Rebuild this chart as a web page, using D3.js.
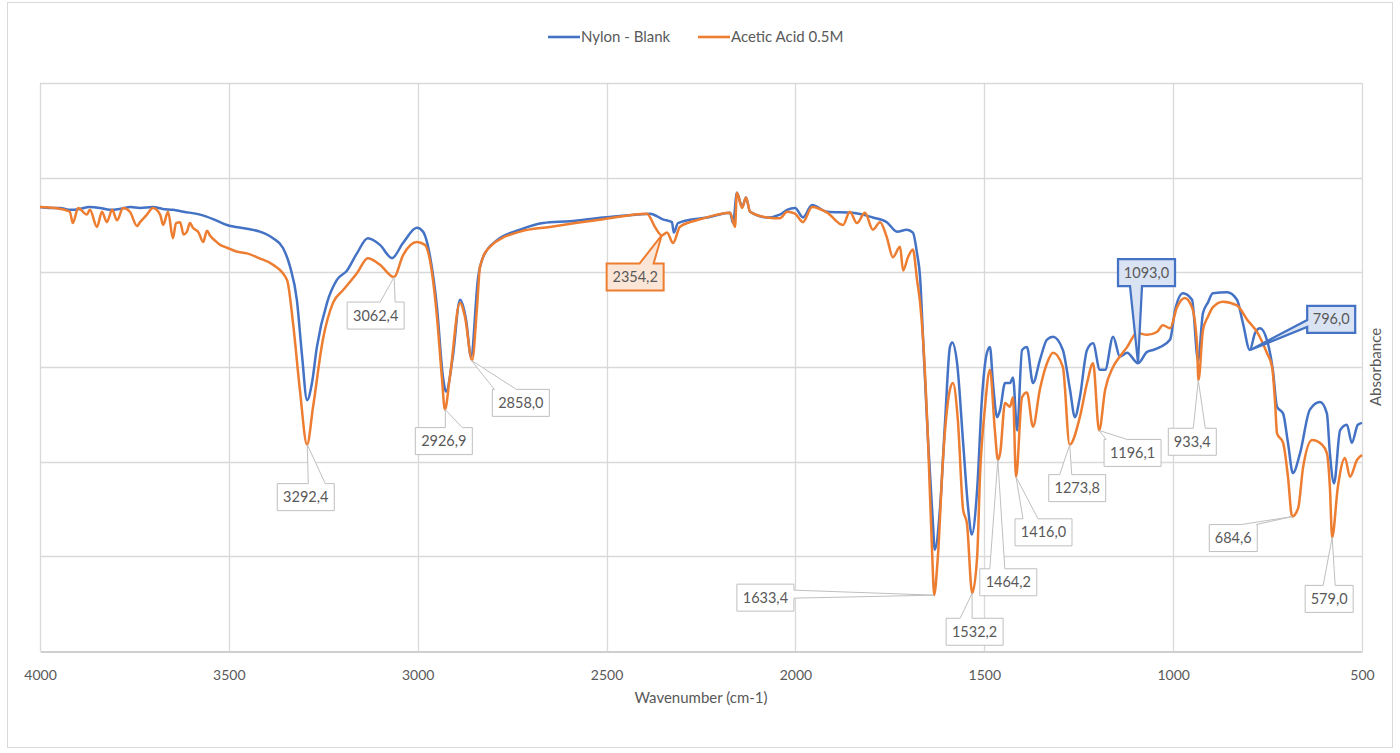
<!DOCTYPE html>
<html>
<head>
<meta charset="utf-8">
<script src="https://cdn.jsdelivr.net/npm/d3@7"></script>
<style>
  body { margin: 0; background: #fff; }
  text { font-family: Lato, "Open Sans", sans-serif; fill: #595959; }
</style>
</head>
<body>
<script>
// spectra: [wavenumber, absorbance (grid units)]
const nylonBlank = [[4000,4.69],[3970,4.68],[3947,4.68],[3920,4.66],[3894,4.67],[3870,4.69],[3841,4.68],[3815,4.66],[3788,4.67],[3760,4.69],[3735,4.68],[3701,4.69],[3675,4.67],[3648,4.66],[3620,4.64],[3576,4.61],[3540,4.56],[3505,4.50],[3452,4.46],[3418,4.43],[3383,4.36],[3357,4.26],[3338,4.06],[3320,3.71],[3306,3.11],[3293,2.65],[3280,2.83],[3267,3.21],[3240,3.68],[3214,3.92],[3187,4.02],[3161,4.20],[3132,4.36],[3100,4.29],[3068,4.15],[3039,4.31],[3002,4.47],[2986,4.43],[2967,4.16],[2949,3.63],[2933,2.89],[2925,2.74],[2907,3.11],[2888,3.71],[2872,3.50],[2859,3.11],[2840,3.95],[2827,4.16],[2790,4.34],[2729,4.45],[2668,4.52],[2597,4.54],[2509,4.58],[2419,4.61],[2385,4.62],[2351,4.56],[2327,4.53],[2322,4.42],[2311,4.52],[2253,4.57],[2234,4.58],[2173,4.63],[2165,4.52],[2155,4.84],[2141,4.69],[2131,4.79],[2120,4.64],[2075,4.58],[2041,4.61],[2022,4.66],[2001,4.68],[1980,4.58],[1956,4.71],[1916,4.64],[1848,4.63],[1795,4.58],[1758,4.53],[1731,4.43],[1705,4.45],[1689,4.42],[1678,4.20],[1670,3.95],[1662,3.29],[1649,2.23],[1636,1.35],[1631,1.07],[1617,1.52],[1604,2.41],[1591,3.21],[1585,3.26],[1572,3.04],[1556,2.20],[1543,1.52],[1533,1.23],[1519,1.70],[1506,2.68],[1493,3.15],[1485,3.21],[1477,2.83],[1466,2.47],[1458,2.55],[1445,2.83],[1432,2.83],[1424,2.89],[1413,2.33],[1400,3.18],[1387,3.21],[1371,2.83],[1353,3.07],[1334,3.29],[1318,3.32],[1292,3.18],[1273,2.76],[1260,2.47],[1247,2.68],[1228,3.18],[1212,3.25],[1194,2.97],[1180,2.97],[1159,3.32],[1141,3.11],[1122,3.15],[1093,3.04],[1069,3.16],[1053,3.18],[1035,3.21],[1008,3.29],[995,3.60],[974,3.78],[950,3.71],[934,3.07],[921,3.57],[908,3.68],[895,3.78],[857,3.79],[831,3.71],[815,3.46],[797,3.18],[783,3.36],[770,3.41],[752,3.29],[736,2.97],[725,2.58],[709,2.51],[696,2.20],[683,1.88],[664,2.09],[638,2.55],[611,2.63],[593,2.51],[585,2.09],[574,1.77],[558,2.33],[540,2.39],[527,2.20],[511,2.39],[500,2.41]];

const aceticAcid = [[4000,4.69],[3960,4.68],[3921,4.64],[3913,4.52],[3899,4.68],[3876,4.61],[3868,4.66],[3849,4.48],[3836,4.64],[3823,4.53],[3809,4.66],[3796,4.55],[3780,4.68],[3762,4.64],[3743,4.49],[3735,4.53],[3717,4.61],[3701,4.68],[3682,4.61],[3674,4.50],[3661,4.64],[3648,4.36],[3640,4.52],[3629,4.53],[3620,4.40],[3611,4.43],[3603,4.52],[3595,4.47],[3580,4.42],[3568,4.32],[3558,4.44],[3550,4.39],[3535,4.33],[3523,4.29],[3505,4.26],[3480,4.22],[3452,4.20],[3420,4.15],[3383,4.08],[3346,3.92],[3330,3.46],[3312,2.76],[3293,2.18],[3277,2.58],[3251,3.29],[3224,3.68],[3198,3.81],[3161,3.99],[3132,4.15],[3100,4.08],[3063,3.95],[3039,4.18],[3002,4.32],[2981,4.29],[2962,3.99],[2949,3.53],[2936,2.89],[2928,2.55],[2915,2.89],[2888,3.68],[2875,3.53],[2856,3.07],[2843,3.63],[2835,4.06],[2809,4.27],[2729,4.43],[2650,4.48],[2509,4.56],[2393,4.62],[2372,4.48],[2354,4.39],[2340,4.42],[2324,4.31],[2306,4.48],[2279,4.53],[2253,4.56],[2173,4.63],[2160,4.48],[2155,4.84],[2141,4.68],[2131,4.79],[2120,4.64],[2075,4.58],[2041,4.57],[2022,4.64],[2001,4.62],[1980,4.53],[1956,4.69],[1916,4.63],[1874,4.50],[1856,4.64],[1837,4.52],[1816,4.63],[1795,4.45],[1776,4.53],[1758,4.37],[1742,4.16],[1723,4.27],[1715,4.02],[1702,4.16],[1689,4.24],[1678,3.92],[1670,3.68],[1662,3.29],[1649,2.23],[1636,0.82],[1633,0.59],[1623,0.99],[1609,2.05],[1591,2.76],[1583,2.83],[1570,2.44],[1556,1.49],[1546,1.35],[1532,0.61],[1519,0.99],[1511,1.88],[1498,2.58],[1485,2.97],[1472,2.33],[1464,2.02],[1458,2.09],[1445,2.62],[1432,2.58],[1424,2.68],[1416,1.84],[1400,2.68],[1387,2.73],[1371,2.37],[1353,2.76],[1334,3.04],[1318,3.15],[1292,3.00],[1274,2.18],[1247,2.47],[1228,2.83],[1212,3.04],[1196,2.33],[1180,2.76],[1159,3.00],[1141,3.11],[1122,3.21],[1096,3.36],[1069,3.34],[1043,3.37],[1027,3.44],[1008,3.41],[990,3.63],[969,3.73],[950,3.63],[937,3.25],[933,2.86],[921,3.39],[908,3.53],[895,3.63],[868,3.69],[831,3.65],[804,3.50],[778,3.37],[752,3.15],[738,3.00],[730,2.62],[725,2.30],[709,2.20],[696,1.84],[685,1.42],[669,1.51],[656,1.94],[632,2.23],[606,2.18],[593,2.09],[585,1.73],[579,1.20],[564,1.73],[545,2.04],[532,1.84],[513,2.02],[500,2.07]];

const seriesNames = ['Nylon - Blank', 'Acetic Acid 0.5M'];
const xTicks = [4000, 3500, 3000, 2500, 2000, 1500, 1000, 500];

// peak labels: wavenumber + which series it sits on
const peakWn     = [3292.4, 3062.4, 2926.9, 2858.0, 2354.2, 1633.4, 1532.2, 1464.2, 1416.0, 1273.8, 1196.1, 933.4, 684.6, 579.0, 1093.0, 796.0];
const peakSeries = [1,1,1,1,1,1,1,1,1,1,1,1,1,1,0,0];

// callout placement relative to the tip (px): box offset, side of the wedge, wedge base
const calloutLayout = [
  {dx:-30, dy:39,  side:'top',    a:31, b:48, style:'plain'},
  {dx:-47, dy:25,  side:'top',    a:33, b:48, style:'plain'},
  {dx:-30, dy:18,  side:'top',    a:30, b:47, style:'plain'},
  {dx:21,  dy:29,  side:'top',    a:2,  b:24, style:'plain'},
  {dx:-55, dy:28,  side:'top',    a:33, b:47, style:'orange'},
  {dx:-197,dy:-11, side:'right',  a:6,  b:14, style:'plain'},
  {dx:-26, dy:25,  side:'top',    a:14, b:26, style:'plain'},
  {dx:-18, dy:109, side:'top',    a:10, b:25, style:'plain'},
  {dx:-1,  dy:42,  side:'top',    a:8,  b:23, style:'plain'},
  {dx:-21, dy:30,  side:'top',    a:11, b:23, style:'plain'},
  {dx:5,   dy:9,   side:'top',    a:2,  b:23, style:'plain'},
  {dx:-30, dy:48,  side:'top',    a:25, b:37, style:'plain'},
  {dx:-83, dy:8,   side:'top',    a:32, b:47, style:'plain'},
  {dx:-27, dy:48,  side:'top',    a:18, b:30, style:'plain'},
  {dx:-20, dy:-104,side:'bottom', a:12, b:24, style:'blue'},
  {dx:57,  dy:-44, side:'left',   a:14, b:21, style:'blue'}
];

const colors = ['#4472c4', '#ed7d31'];
const calloutStyles = {
  plain:  {fill:'#ffffff', stroke:'#bfbfbf', sw:1},
  orange: {fill:'#fbe5d6', stroke:'#ed7d31', sw:2},
  blue:   {fill:'#dae3f3', stroke:'#4472c4', sw:2.25}
};

let width = 1400, height = 753;
let plot = {left:40, right:1362, top:83, bottom:651};

let xScale = d3.scaleLinear([4000, 500], [plot.left, plot.right]),
    yScale = d3.scaleLinear([0, 6], [plot.bottom, plot.top]);

let svg = d3.select('body').append('svg').attr('width', width).attr('height', height);

// chart frame
svg.append('rect')
  .attr('x', 7.5).attr('y', 2.5).attr('width', 1385).attr('height', 745)
  .style('fill', 'none').style('stroke', '#d9d9d9');

// gridlines
svg.append('g').selectAll('line')
  .data(d3.range(1, 7))
  .join('line')
  .attr('x1', plot.left).attr('x2', plot.right)
  .attr('y1', d => Math.round(yScale(d)) + 0.5).attr('y2', d => Math.round(yScale(d)) + 0.5)
  .style('stroke', '#d9d9d9').style('stroke-width', '1.3px');

svg.append('g').selectAll('line')
  .data(xTicks)
  .join('line')
  .attr('x1', d => Math.round(xScale(d)) + 0.5).attr('x2', d => Math.round(xScale(d)) + 0.5)
  .attr('y1', plot.top).attr('y2', plot.bottom)
  .style('stroke', '#d9d9d9').style('stroke-width', '1.3px');

// x axis
let xAxis = svg.append('g').attr('transform', `translate(0,${plot.bottom + 0.5})`)
  .call(d3.axisBottom(xScale).tickValues(xTicks).tickSize(0).tickPadding(19).tickFormat(d3.format('d')));
xAxis.select('.domain').style('stroke', '#bfbfbf').style('stroke-width', '1.3px');
xAxis.selectAll('text').style('font-size', '14px').style('fill', '#595959')
  .style('font-family', 'Lato, sans-serif');

svg.append('text')
  .attr('x', (plot.left + plot.right) / 2).attr('y', 703)
  .attr('text-anchor', 'middle').style('font-size', '15px')
  .text('Wavenumber (cm-1)');

svg.append('text')
  .attr('transform', `translate(1381,${(plot.top + plot.bottom) / 2}) rotate(-90)`)
  .attr('text-anchor', 'middle').style('font-size', '15px')
  .text('Absorbance');

// spectra
let lineGen = d3.line()
  .x(d => xScale(d[0]))
  .y(d => yScale(d[1]))
  .curve(d3.curveMonotoneX);

[nylonBlank, aceticAcid].forEach((s, i) => {
  svg.append('path')
    .datum(s)
    .attr('d', lineGen)
    .style('fill', 'none')
    .style('stroke', colors[i])
    .style('stroke-width', '2.5px')
    .style('stroke-linejoin', 'round');
});

// legend
let legend = svg.append('g');
let legendX = [548, 698];
seriesNames.forEach((name, i) => {
  legend.append('line')
    .attr('x1', legendX[i]).attr('x2', legendX[i] + 32)
    .attr('y1', 37).attr('y2', 37)
    .style('stroke', colors[i]).style('stroke-width', '2.6px');
  legend.append('text')
    .attr('x', legendX[i] + 33).attr('y', 42)
    .style('font-size', '15px')
    .text(name);
});

// callouts
function calloutPath(b, t, side, a, c) {
  let p = d3.path();
  p.moveTo(b.x0, b.y0);
  if (side === 'top') { p.lineTo(b.x0 + a, b.y0); p.lineTo(t[0], t[1]); p.lineTo(b.x0 + c, b.y0); }
  p.lineTo(b.x1, b.y0);
  if (side === 'right') { p.lineTo(b.x1, b.y0 + a); p.lineTo(t[0], t[1]); p.lineTo(b.x1, b.y0 + c); }
  p.lineTo(b.x1, b.y1);
  if (side === 'bottom') { p.lineTo(b.x0 + c, b.y1); p.lineTo(t[0], t[1]); p.lineTo(b.x0 + a, b.y1); }
  p.lineTo(b.x0, b.y1);
  if (side === 'left') { p.lineTo(b.x0, b.y0 + c); p.lineTo(t[0], t[1]); p.lineTo(b.x0, b.y0 + a); }
  p.closePath();
  return p.toString();
}

let series = [nylonBlank, aceticAcid];
let fmt = d => d3.format('.1f')(d).replace('.', ',');

peakWn.forEach((w, i) => {
  let s = series[peakSeries[i]];
  let nearest = s[d3.minIndex(s, d => Math.abs(d[0] - w))];
  let tip = [xScale(w), yScale(nearest[1])];
  let L = calloutLayout[i];
  let label = fmt(w);
  let bw = label.length * 9 + 3, bh = 27;
  let box = {x0: tip[0] + L.dx, y0: tip[1] + L.dy};
  box.x1 = box.x0 + bw; box.y1 = box.y0 + bh;
  let st = calloutStyles[L.style];
  svg.append('path')
    .attr('d', calloutPath(box, tip, L.side, L.a, L.b))
    .style('fill', st.fill).style('stroke', st.stroke).style('stroke-width', st.sw + 'px')
    .style('stroke-linejoin', 'miter');
  svg.append('text')
    .attr('x', (box.x0 + box.x1) / 2).attr('y', (box.y0 + box.y1) / 2 + 5)
    .attr('text-anchor', 'middle').style('font-size', '14.5px')
    .text(label);
});
</script>
</body>
</html>
